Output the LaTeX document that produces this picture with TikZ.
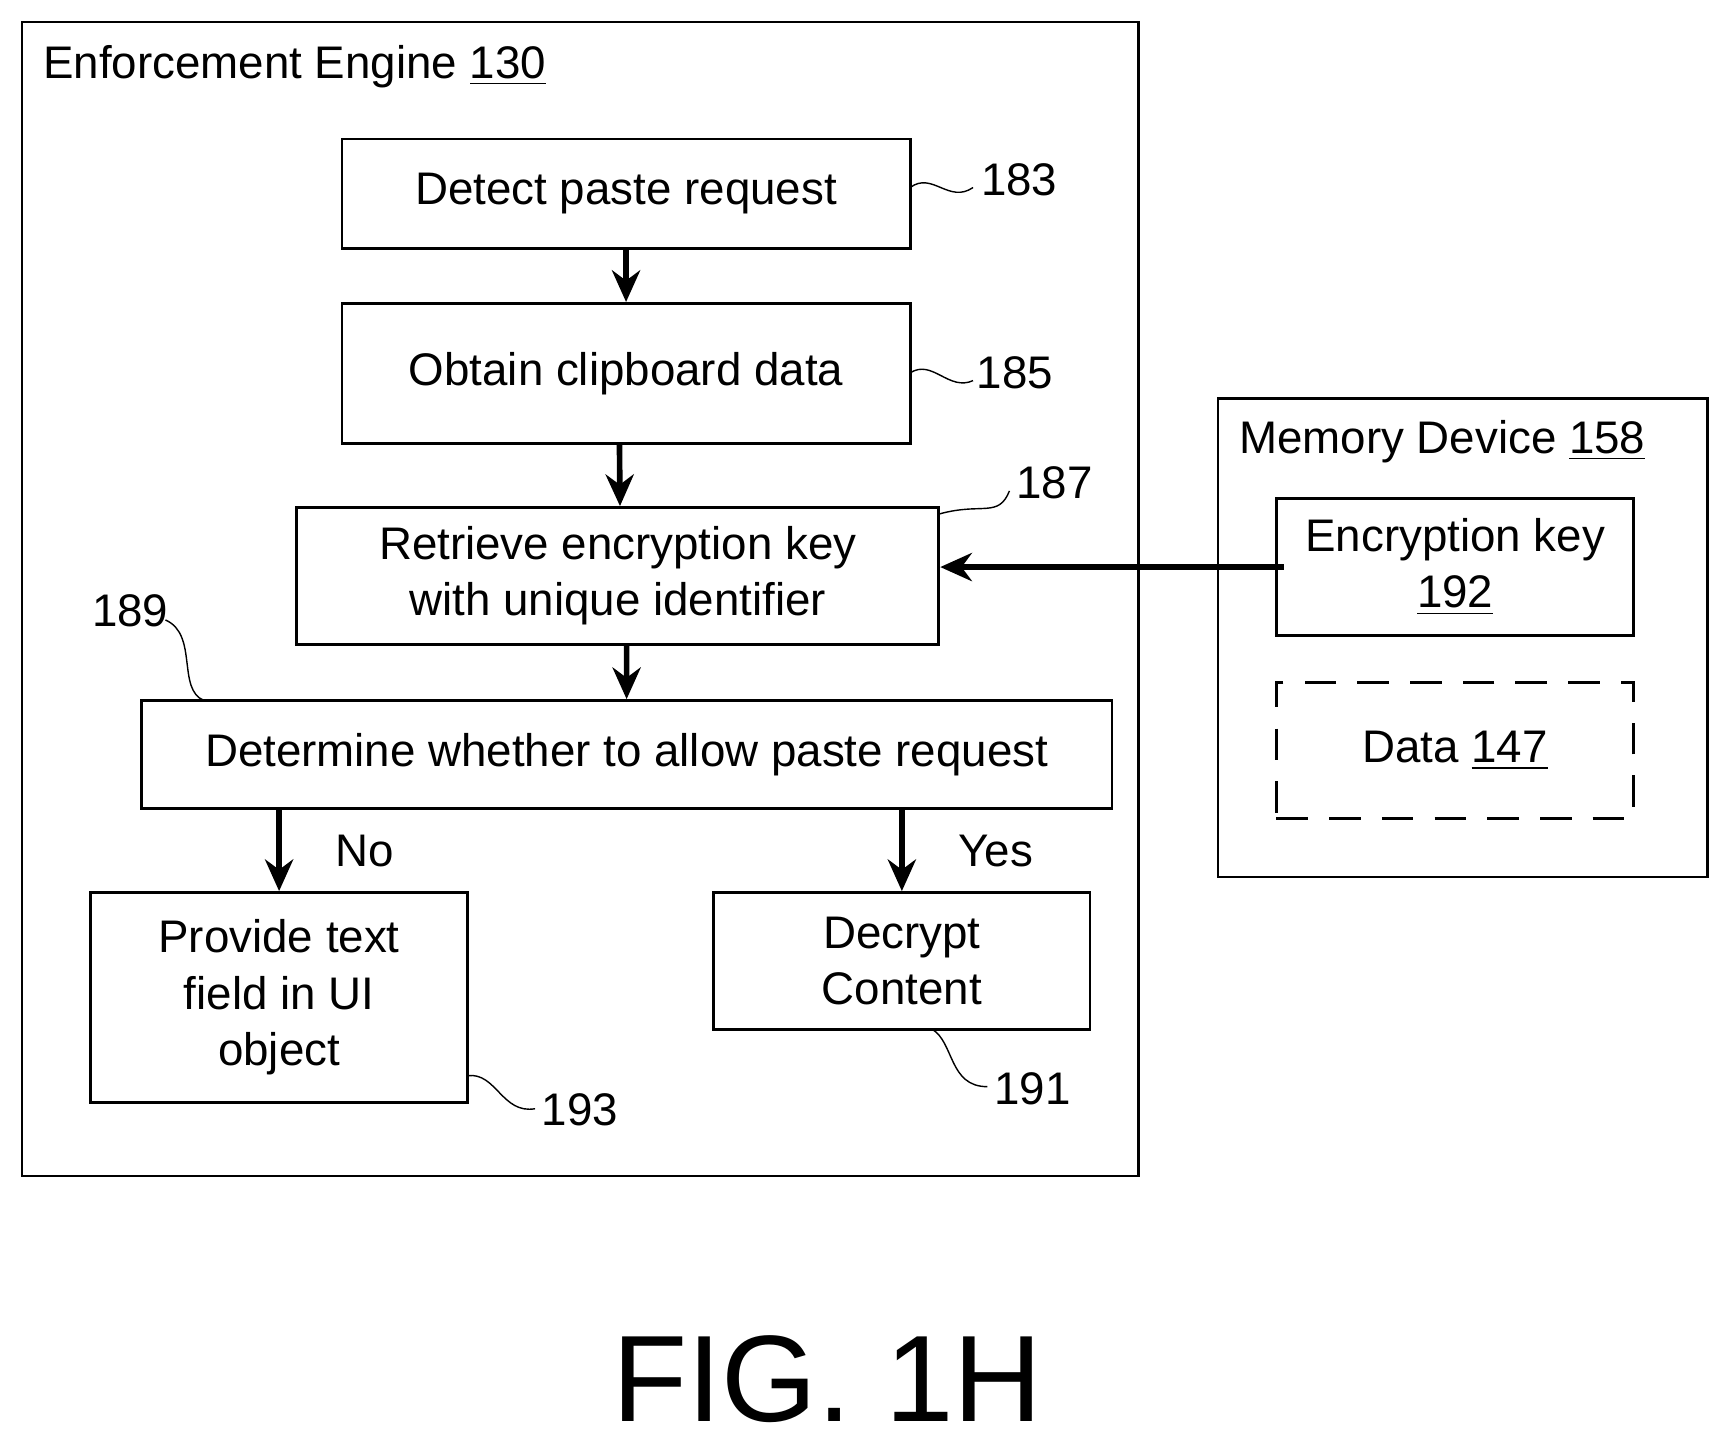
\documentclass[tikz,border=0pt]{standalone}
\usepackage{fontspec}
\setmainfont{Liberation Sans}
\usetikzlibrary{calc,arrows.meta}
\begin{document}
\begin{tikzpicture}[x=0.011032cm,y=-0.011032cm,
box/.style={draw,thick,align=center,inner sep=0pt,font=\fontsize{13}{17}\selectfont},
bw/.style={minimum width=#1*0.011032cm},
bh/.style={minimum height=#1*0.011032cm},
title/.style={anchor=west,font=\fontsize{13}{16}\selectfont},
flow/.style={-{Stealth[length=9pt,width=8pt]},line width=1.6pt},
lead/.style={thin},
num/.style={font=\fontsize{13}{16}\selectfont}]
	\useasboundingbox (0,0) rectangle (1560,1306);
	% frames
	\node[box,bw=1012,bh=1046] (engine) at (526,543) {};
	\node[title] at (28,60) {Enforcement Engine \underline{130}};
	\node[box,bw=444,bh=434] (memory) at (1326,578) {};
	\node[title] at (1112,400) {Memory Device \underline{158}};

	% steps
	\node[box,bw=515,bh=99] (detect) at (567.5,175.5) {Detect paste request};
	\node[box,bw=515,bh=127] (obtain) at (567.5,338.5) {Obtain clipboard data};
	\node[box,bw=582,bh=124] (retrieve) at (560,522) {Retrieve encryption key\\[-1pt]with unique identifier};
	\node[box,bw=880,bh=98] (determine) at (568,684) {Determine whether to allow paste request};
	\node[box,bw=342,bh=190] (provide) at (253,904) {Provide text\\[-1pt]field in UI\\[-1pt]object};
	\node[box,bw=341,bh=124] (decrypt) at (817.5,871) {Decrypt\\[-1pt]Content};
	\node[box,bw=324,bh=124] (enckey) at (1319,514) {Encryption key\\[-1pt]\underline{192}};
	\node[box,bw=324,bh=123,dash pattern=on 9pt off 6pt] (data) at (1319,680.5) {Data \underline{147}};

	% connectors
	\draw[flow] (detect.south) -- (obtain.north);
	\draw[flow] ([xshift=-0.066cm]obtain.south) -- ([xshift=0.022cm]retrieve.north);
	\draw[flow] ([xshift=0.088cm]retrieve.south) -- (determine.north);
	\draw[flow] (determine.south -| provide.north) -- node[num,right=12pt] {No} (provide.north);
	\draw[flow] (determine.south -| decrypt.north) -- node[num,right=12pt] {Yes} (decrypt.north);
	\draw[flow] ([xshift=0.088cm]enckey.west) -- (retrieve.east |- enckey.west);

	% reference numerals
	\draw[lead] (825,170) .. controls (845,155) and (860,185) .. (882,170);
	\node[num,anchor=west] at (878,163) {183};
	\draw[lead] (825,338) .. controls (845,325) and (860,355) .. (882,345);
	\node[num,anchor=west] at (874,338) {185};
	\draw[lead] (851,466) .. controls (890,455) and (905,470) .. (915,445);
	\node[num,anchor=west] at (910,438) {187};
	\draw[lead] (185,635) .. controls (160,625) and (180,575) .. (150,562);
	\node[num] at (118,554) {189};
	\draw[lead] (424,975) .. controls (450,972) and (455,1010) .. (485,1005);
	\node[num,anchor=west] at (480,1006) {193};
	\draw[lead] (845,933) .. controls (865,945) and (860,985) .. (895,985);
	\node[num,anchor=west] at (890,987) {191};

	\node[font=\fontsize{35}{38}\selectfont] at (750,1250) {FIG. 1H};
\end{tikzpicture}
\end{document}
